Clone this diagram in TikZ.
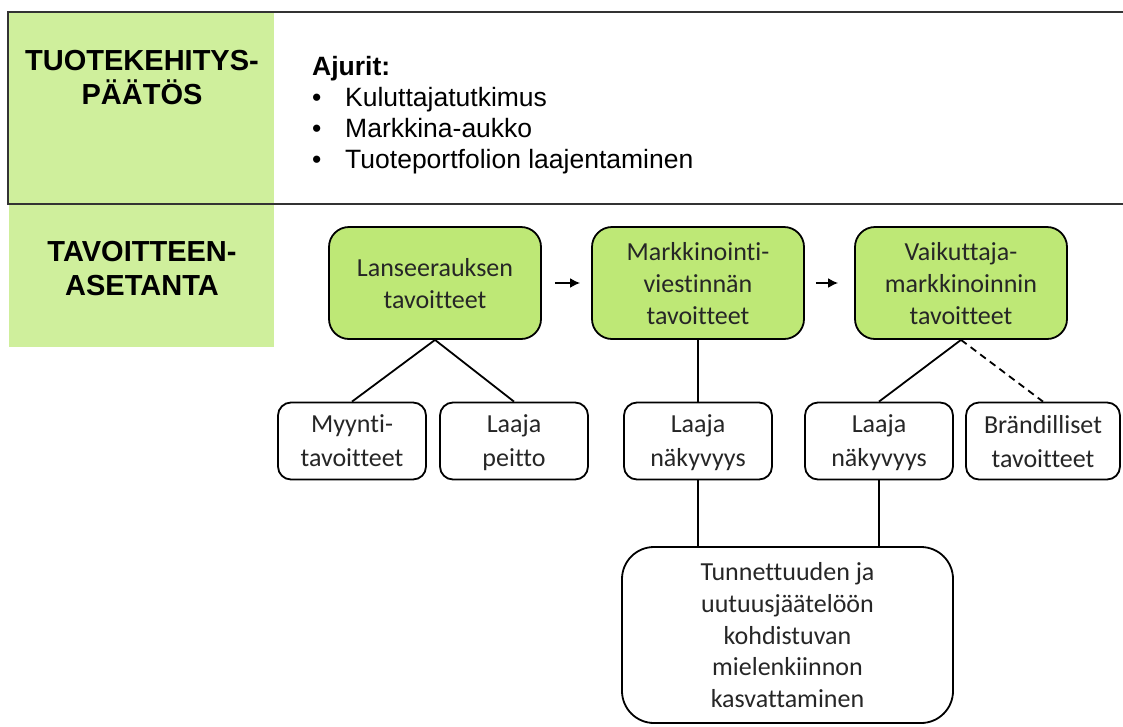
\documentclass[tikz,border=0pt]{standalone}
\usepackage{fontspec}
\setmainfont{Liberation Sans}
\newfontfamily\boxfont[Ligatures=NoCommon]{Carlito}
\usetikzlibrary{positioning, arrows.meta}

\definecolor{panelgreen}{RGB}{207,239,156}
\definecolor{goalgreen}{RGB}{190,232,118}
\definecolor{inkgray}{RGB}{38,38,38}

\tikzset{
  heading/.style={font=\bfseries\fontsize{29}{34}\selectfont, align=center, inner sep=0pt},
  goal/.style={draw=black, line width=1.8pt, rounded corners=20pt, fill=goalgreen,
    minimum width=212pt, minimum height=112pt, inner sep=0pt, align=center, text=inkgray,
    font=\boxfont\fontsize{26}{32}\selectfont, text depth=0pt},
  subgoal/.style={goal, fill=white, rounded corners=13pt, minimum width=148pt,
    minimum height=77pt, font=\boxfont\fontsize{26}{34}\selectfont},
  outcome/.style={subgoal, rounded corners=32pt, minimum width=331pt,
    minimum height=176pt, font=\boxfont\fontsize{26}{31.8}\selectfont},
  link/.style={draw=black, line width=1.8pt},
  flow/.style={link, -{Latex[length=10pt,width=10pt]}}
}

\begin{document}
\begin{tikzpicture}[x=1pt, y=-1pt, node distance=263pt, on grid]
    \useasboundingbox (0,0) rectangle (1123,726);

    % left panels and top frame
    \fill[panelgreen] (8,12) rectangle (274,204);
    \fill[panelgreen] (9,204) rectangle (274,347);
    \draw[line width=2.2pt, black!80] (8,12) rectangle (1140,204);

    \node[heading, anchor=north] (decision) at (142,50) {TUOTEKEHITYS-\\PÄÄTÖS};
    \node[heading, anchor=north] (setting) at (142,241) {TAVOITTEEN-\\ASETANTA};

    \node[anchor=north west, inner sep=0pt, align=left,
      font=\fontsize{26.5}{31}\selectfont] (drivers) at (312,56)
      {\textbf{Ajurit:}\\
       \makebox[33pt][l]{\textbullet}Kuluttajatutkimus\\
       \makebox[33pt][l]{\textbullet}Markkina-aukko\\
       \makebox[33pt][l]{\textbullet}Tuoteportfolion laajentaminen};

    % goals
    \node[goal] (launch) at (435,283) {Lanseerauksen\\tavoitteet};
    \node[goal] (marcom) [right=of launch] {Markkinointi-\\viestinnän\\tavoitteet};
    \node[goal] (influencer) [right=of marcom] {Vaikuttaja-\\markkinoinnin\\tavoitteet};

    \node[subgoal] (sales) [below left=158pt and 83pt of launch] {Myynti-\\tavoitteet};
    \node[subgoal] (reach) [right=162pt of sales] {Laaja\\peitto};
    \node[subgoal] (visibility) [below=158pt of marcom] {Laaja\\näkyvyys};
    \node[subgoal] (inflvis) [below left=158pt and 82pt of influencer] {Laaja\\näkyvyys};
    \node[subgoal, minimum width=154pt] (brand) [right=164pt of inflvis] {Brändilliset\\tavoitteet};

    \node[outcome] (interest) at (787.5,635)
      {Tunnettuuden ja\\uutuusjäätelöön\\kohdistuvan\\mielenkiinnon\\kasvattaminen};

    \draw[flow] ([xshift=13pt]launch.east) -- ([xshift=-11pt]marcom.west);
    \draw[flow] ([xshift=11pt]marcom.east) -- ([xshift=-16pt]influencer.west);

    \draw[link] (launch.south) -- (sales.north);
    \draw[link] (launch.south) -- (reach.north);
    \draw[link] (marcom.south) -- (visibility.north);
    \draw[link] (influencer.south) -- (inflvis.north);
    \draw[link, dash pattern=on 7pt off 5pt] (influencer.south) -- (brand.north);
    \draw[link] (visibility.south) -- (visibility.south |- interest.north);
    \draw[link] (inflvis.south) -- (inflvis.south |- interest.north);
\end{tikzpicture}
\end{document}
